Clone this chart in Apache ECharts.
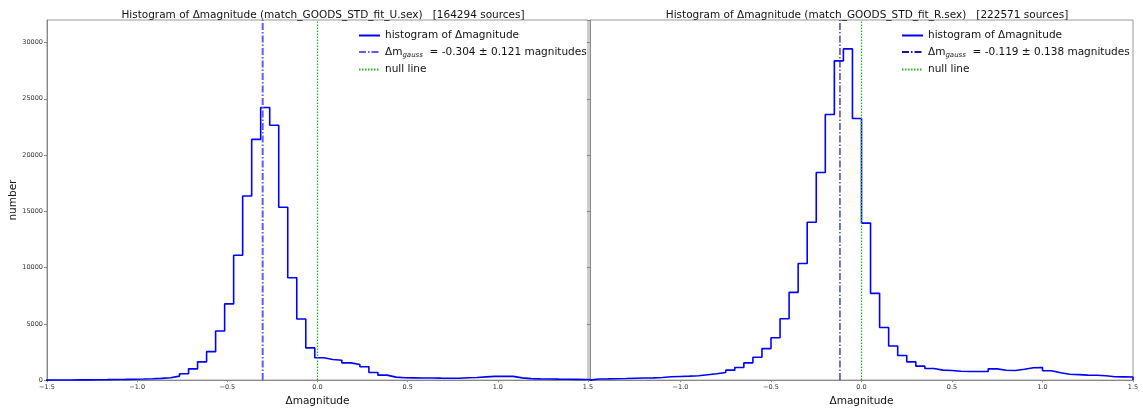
<!DOCTYPE html>
<html>
<head>
<meta charset="utf-8">
<script src="https://cdn.jsdelivr.net/npm/echarts@6/dist/echarts.min.js"></script>
<style>
  html, body { margin: 0; padding: 0; background: #fff; }
  #chart { width: 1143px; height: 412px; }
</style>
</head>
<body>
<div id="chart"></div>
<script>
  // histogram bins (step outline), width 0.05 mag
  var binWidth = 0.05
  var binStartU = -1.515
  var binStartR = -1.5
  var countsU = [5, 8, 12, 16, 22, 30, 40, 55, 65, 80, 95, 120, 150, 210, 355, 565, 1000, 1620, 2530, 4360,
    6770, 11090, 16360, 21390, 24220, 22650, 15360, 9090, 5430, 2860, 1980, 1830, 1765, 1530, 1385, 1180, 680, 440, 265, 210,
    200, 190, 185, 175, 170, 160, 210, 230, 290, 330, 345, 330, 200, 130, 110, 100, 85, 75, 65, 55, 50]
  var countsR = [100, 110, 125, 140, 160, 180, 200, 235, 295, 325, 355, 390, 475, 560, 680, 885, 1120, 1535, 2030, 2800,
    3770, 5450, 7800, 10360, 14030, 18450, 23600, 28370, 29430, 23250, 13950, 7710, 4680, 3035, 2180, 1620, 1240, 1030, 885, 855,
    780, 770, 770, 770, 1000, 880, 850, 970, 1100, 1120, 825, 650, 520, 490, 440, 430, 390, 300, 290, 270]
  var gaussU = -0.304
  var sigmaU = 0.121
  var gaussR = -0.119
  var sigmaR = 0.138
  var yMax = 32000

  var FONT = 'DejaVu Sans'

  function stepData(start, counts) {
    var pts = [[start, 0]]
    for (var i = 0; i < counts.length; i++) {
      pts.push([+(start + i * binWidth).toFixed(4), counts[i]])
    }
    var end = +(start + counts.length * binWidth).toFixed(4)
    pts.push([end, counts[counts.length - 1]])
    pts.push([end, 0])
    return pts
  }

  function fmtX(v) {
    return v.toFixed(1).replace('-', '\u2212')
  }

  var legendNames = {
    histU: '{n|histogram of \u0394magnitude}',
    histR: '{n|histogram of \u0394magnitude}',
    gaussU: '{n|\u0394m}{s|gauss}{n|  = ' + gaussU.toFixed(3) + ' \u00b1 ' + sigmaU.toFixed(3) + ' magnitudes}',
    gaussR: '{n|\u0394m}{s|gauss}{n|  = ' + gaussR.toFixed(3) + ' \u00b1 ' + sigmaR.toFixed(3) + ' magnitudes}',
    nullU: '{n|null line}',
    nullR: '{n|null line}'
  }

  var richText = {
    n: { fontFamily: FONT, fontSize: 10.5, color: '#111' },
    s: { fontFamily: FONT, fontSize: 7, fontStyle: 'italic', color: '#111', padding: [6, 0, 0, 0] }
  }

  function makeXAxis(idx, hideMin) {
    return {
      type: 'value', gridIndex: idx, min: -1.5, max: 1.5, interval: 0.5,
      name: '\u0394magnitude', nameLocation: 'middle', nameGap: 9,
      nameTextStyle: { fontFamily: FONT, fontSize: 10.5, color: '#111' },
      axisLine: { onZero: false, lineStyle: { color: '#888' } },
      axisTick: { show: true, length: 2, lineStyle: { color: '#888' } },
      axisLabel: { fontFamily: FONT, fontSize: 6.5, color: '#333', margin: 4, formatter: fmtX, showMinLabel: !hideMin },
      splitLine: { show: false }
    }
  }

  function makeYAxis(idx, labels) {
    return {
      type: 'value', gridIndex: idx, min: 0, max: yMax, interval: 5000,
      name: labels ? 'number' : '', nameLocation: 'middle', nameGap: 25,
      nameTextStyle: { fontFamily: FONT, fontSize: 10.5, color: '#111' },
      axisLine: { show: true, onZero: false, lineStyle: { color: '#888' } },
      axisTick: { show: true, length: 3, lineStyle: { color: '#888' } },
      axisLabel: { show: labels, fontFamily: FONT, fontSize: 6.5, color: '#333', margin: 4, showMaxLabel: false,
        formatter: function (v) { return String(v) } },
      splitLine: { show: false }
    }
  }

  function vline(name, idx, x, color, width, type) {
    return {
      name: name, type: 'line', xAxisIndex: idx, yAxisIndex: idx,
      data: [[x, 0], [x, yMax]], symbol: 'none', silent: true,
      lineStyle: { color: color, width: width, type: type },
      itemStyle: { color: color }
    }
  }

  function makeLegend(names, left) {
    return {
      data: names, orient: 'vertical', left: left, top: 25, itemWidth: 21, itemHeight: 10, itemGap: 5.5,
      itemStyle: { opacity: 0 }, selectedMode: false,
      formatter: function (n) { return legendNames[n] },
      textStyle: { fontFamily: FONT, fontSize: 10.5, color: '#111', rich: richText }
    }
  }

  var option = {
    animation: false,
    backgroundColor: '#fff',
    title: [
      { text: 'Histogram of \u0394magnitude (match_GOODS_STD_fit_U.sex)   [164294 sources]', left: 318, top: 5, textAlign: 'center',
        textStyle: { fontFamily: FONT, fontSize: 10.5, fontWeight: 'normal', color: '#111' } },
      { text: 'Histogram of \u0394magnitude (match_GOODS_STD_fit_R.sex)   [222571 sources]', left: 862, top: 5, textAlign: 'center',
        textStyle: { fontFamily: FONT, fontSize: 10.5, fontWeight: 'normal', color: '#111' } }
    ],
    legend: [makeLegend(['histU', 'gaussU', 'nullU'], 353), makeLegend(['histR', 'gaussR', 'nullR'], 896)],
    grid: [
      { left: 47, right: 555, top: 20, bottom: 30, show: true, borderColor: '#999', borderWidth: 1 },
      { left: 590, right: 10, top: 20, bottom: 30, show: true, borderColor: '#999', borderWidth: 1 }
    ],
    xAxis: [makeXAxis(0, false), makeXAxis(1, true)],
    yAxis: [makeYAxis(0, true), makeYAxis(1, false)],
    series: [
      { name: 'histU', type: 'line', xAxisIndex: 0, yAxisIndex: 0, step: 'end', symbol: 'none',
        data: stepData(binStartU, countsU), lineStyle: { color: '#0000ff', width: 1.6 }, itemStyle: { color: '#0000ff' } },
      vline('gaussU', 0, gaussU, '#5c5cff', 2, [7, 2, 1.5, 2]),
      vline('nullU', 0, 0, '#1fb81f', 1.3, [1.5, 1.5]),
      { name: 'histR', type: 'line', xAxisIndex: 1, yAxisIndex: 1, step: 'end', symbol: 'none',
        data: stepData(binStartR, countsR), lineStyle: { color: '#0000ff', width: 1.6 }, itemStyle: { color: '#0000ff' } },
      vline('gaussR', 1, gaussR, '#1a1a99', 1.2, [7, 2, 1.5, 2]),
      vline('nullR', 1, 0, '#1fb81f', 1.3, [1.5, 1.5])
    ]
  }

  var chart = echarts.init(document.getElementById('chart'), null, { renderer: 'canvas' })
  chart.setOption(option)
</script>
</body>
</html>
